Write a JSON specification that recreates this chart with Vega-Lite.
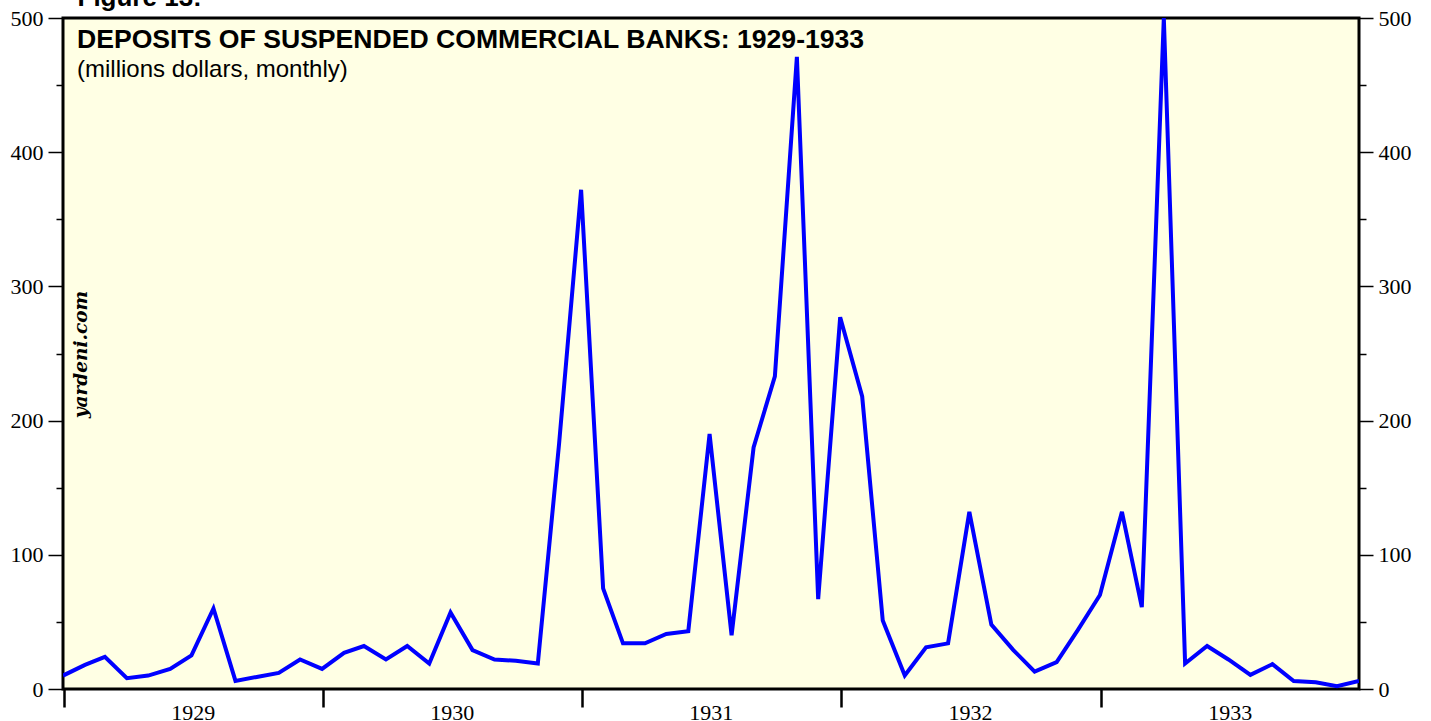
{
  "$schema": "https://vega.github.io/schema/vega-lite/v6.json",
  "width": 1296,
  "height": 671,
  "autosize": "none",
  "padding": {"left": 63, "top": 18, "right": 72, "bottom": 32},
  "background": "white",
  "config": {
    "view": {"fill": "#FFFFE4", "stroke": "black", "strokeWidth": 3},
    "axis": {"grid": false, "domain": false, "tickColor": "black", "labelColor": "black", "labelFont": "Liberation Serif", "labelFontSize": 21, "tickWidth": 1.5}
  },
  "title": {
    "text": "DEPOSITS OF SUSPENDED COMMERCIAL BANKS: 1929-1933",
    "subtitle": "(millions dollars, monthly)",
    "anchor": "start",
    "frame": "group",
    "dx": 14,
    "offset": -98,
    "font": "Liberation Sans",
    "fontSize": 26.6,
    "fontWeight": "bold",
    "color": "black",
    "subtitleFont": "Liberation Sans",
    "subtitleFontSize": 24,
    "subtitleColor": "black",
    "subtitlePadding": 4
  },
  "data": {
    "values": [
      {"date": "1928-12-31", "deposits": 10},
      {"date": "1929-01-31", "deposits": 18},
      {"date": "1929-02-28", "deposits": 24},
      {"date": "1929-03-31", "deposits": 8},
      {"date": "1929-04-30", "deposits": 10},
      {"date": "1929-05-31", "deposits": 15},
      {"date": "1929-06-30", "deposits": 25},
      {"date": "1929-07-31", "deposits": 60},
      {"date": "1929-08-31", "deposits": 6},
      {"date": "1929-09-30", "deposits": 9},
      {"date": "1929-10-31", "deposits": 12},
      {"date": "1929-11-30", "deposits": 22},
      {"date": "1929-12-31", "deposits": 15},
      {"date": "1930-01-31", "deposits": 27},
      {"date": "1930-02-28", "deposits": 32},
      {"date": "1930-03-31", "deposits": 22},
      {"date": "1930-04-30", "deposits": 32},
      {"date": "1930-05-31", "deposits": 19},
      {"date": "1930-06-30", "deposits": 57},
      {"date": "1930-07-31", "deposits": 29},
      {"date": "1930-08-31", "deposits": 22},
      {"date": "1930-09-30", "deposits": 21},
      {"date": "1930-10-31", "deposits": 19},
      {"date": "1930-11-30", "deposits": 183},
      {"date": "1930-12-31", "deposits": 372},
      {"date": "1931-01-31", "deposits": 75},
      {"date": "1931-02-28", "deposits": 34},
      {"date": "1931-03-31", "deposits": 34},
      {"date": "1931-04-30", "deposits": 41},
      {"date": "1931-05-31", "deposits": 43},
      {"date": "1931-06-30", "deposits": 190},
      {"date": "1931-07-31", "deposits": 40},
      {"date": "1931-08-31", "deposits": 180},
      {"date": "1931-09-30", "deposits": 233},
      {"date": "1931-10-31", "deposits": 471},
      {"date": "1931-11-30", "deposits": 67},
      {"date": "1931-12-31", "deposits": 277},
      {"date": "1932-01-31", "deposits": 218},
      {"date": "1932-02-29", "deposits": 51},
      {"date": "1932-03-31", "deposits": 10},
      {"date": "1932-04-30", "deposits": 31},
      {"date": "1932-05-31", "deposits": 34},
      {"date": "1932-06-30", "deposits": 132},
      {"date": "1932-07-31", "deposits": 48},
      {"date": "1932-08-31", "deposits": 29},
      {"date": "1932-09-30", "deposits": 13},
      {"date": "1932-10-31", "deposits": 20},
      {"date": "1932-11-30", "deposits": 44},
      {"date": "1932-12-31", "deposits": 70},
      {"date": "1933-01-31", "deposits": 132},
      {"date": "1933-02-28", "deposits": 61},
      {"date": "1933-03-31", "deposits": 500},
      {"date": "1933-04-30", "deposits": 19},
      {"date": "1933-05-31", "deposits": 32},
      {"date": "1933-06-30", "deposits": 22},
      {"date": "1933-07-31", "deposits": 10.5},
      {"date": "1933-08-31", "deposits": 18.5},
      {"date": "1933-09-30", "deposits": 6},
      {"date": "1933-10-31", "deposits": 5},
      {"date": "1933-11-30", "deposits": 2},
      {"date": "1933-12-31", "deposits": 6}
    ]
  },
  "resolve": {"axis": {"x": "independent", "y": "independent"}},
  "layer": [
    {
      "mark": {"type": "line", "color": "#0000FF", "strokeWidth": 4, "clip": true},
      "encoding": {
        "x": {
          "field": "date", "type": "temporal",
          "scale": {"type": "utc", "domain": [{"year": 1928, "month": 12, "date": 31, "utc": true}, {"year": 1933, "month": 12, "date": 31, "utc": true}]},
          "axis": {
            "orient": "bottom", "title": null,
            "values": [
              {"year": 1929, "month": 1, "date": 1, "utc": true},
              {"year": 1930, "month": 1, "date": 1, "utc": true},
              {"year": 1931, "month": 1, "date": 1, "utc": true},
              {"year": 1932, "month": 1, "date": 1, "utc": true},
              {"year": 1933, "month": 1, "date": 1, "utc": true},
              {"year": 1934, "month": 1, "date": 1, "utc": true}
            ],
            "labelExpr": "utcyear(datum.value) > 1933 ? '' : utcFormat(datum.value, '%Y')",
            "labelOffset": 129,
            "labelAlign": "center",
            "labelBaseline": "top",
            "labelFontSize": 22,
            "tickSize": 18,
            "tickWidth": 2.5,
            "labelPadding": -5,
            "labelFlush": false,
            "labelOverlap": false
          }
        },
        "y": {
          "field": "deposits", "type": "quantitative",
          "scale": {"domain": [0, 500], "nice": false},
          "axis": {
            "orient": "left",
            "values": [0, 50, 100, 150, 200, 250, 300, 350, 400, 450, 500],
            "labelExpr": "datum.value % 100 === 0 ? datum.label : ''",
            "tickSize": {"condition": {"test": "datum.value % 100 === 0", "value": 15}, "value": 7},
            "labelPadding": 5,
            "labelFontSize": 22,
            "title": "yardeni.com",
            "titleX": 17,
            "titleY": 336,
            "titleAngle": -90,
            "titleAlign": "center",
            "titleBaseline": "middle",
            "titleFont": "DejaVu Serif",
            "titleFontStyle": "italic",
            "titleFontWeight": "bold",
            "titleFontSize": 18.5,
            "titleColor": "black"
          }
        }
      }
    },
    {
      "mark": {"type": "line", "strokeOpacity": 0},
      "encoding": {
        "x": {
          "field": "date", "type": "temporal",
          "scale": {"type": "utc"},
          "axis": {
            "orient": "top", "ticks": false, "labels": false,
            "title": "Figure 13:",
            "titleX": 14, "titleY": -13,
            "titleAlign": "left", "titleAnchor": "start",
            "titleBaseline": "alphabetic",
            "titleFont": "Liberation Sans", "titleFontSize": 26, "titleFontWeight": "bold", "titleColor": "black"
          }
        },
        "y": {
          "field": "deposits", "type": "quantitative",
          "axis": {
            "orient": "right", "title": null,
            "values": [0, 50, 100, 150, 200, 250, 300, 350, 400, 450, 500],
            "labelExpr": "datum.value % 100 === 0 ? datum.label : ''",
            "tickSize": {"condition": {"test": "datum.value % 100 === 0", "value": 14}, "value": 7},
            "labelPadding": 5,
            "labelFontSize": 22
          }
        }
      }
    }
  ]
}
